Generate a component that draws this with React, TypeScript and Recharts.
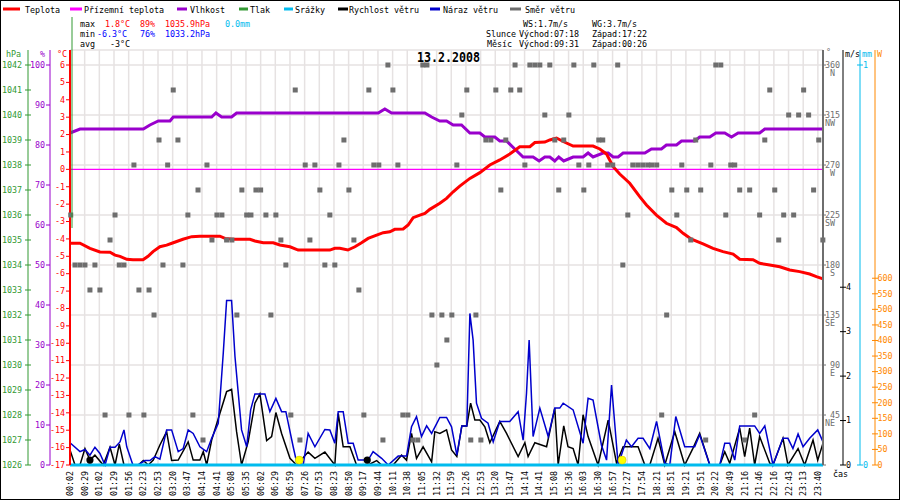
import React from 'react';
import { ComposedChart, Line, Scatter, XAxis, YAxis, CartesianGrid } from 'recharts';

// x values are sample slots: one slot per time label on the axis
const TIMES = [
  '00:02', '00:29', '01:02', '01:29', '01:56', '02:23', '02:53', '03:20', '03:47', '04:14',
  '04:41', '05:08', '05:35', '06:02', '06:29', '06:59', '07:26', '07:53', '08:23', '08:50',
  '09:17', '09:44', '10:11', '10:38', '11:05', '11:32', '11:59', '12:26', '12:53', '13:20',
  '13:47', '14:14', '14:41', '15:08', '15:36', '16:03', '16:30', '16:57', '17:27', '17:54',
  '18:21', '18:51', '19:21', '19:51', '20:22', '20:49', '21:16', '21:46', '22:16', '22:43',
  '23:13', '23:40',
];
const X_END = 51.35;

// [slot, °C]
const TEMPERATURE: [number, number][] = [
  [0, -4.25], [0.68, -4.25], [1.36, -4.54], [2.04, -4.75], [2.73, -4.77], [3.07, -4.93], [3.41, -5.0],
  [3.87, -5.17], [4.29, -5.2], [4.98, -5.2], [5.32, -5.0], [5.66, -4.73], [6.13, -4.45], [6.59, -4.36],
  [7.04, -4.22], [7.7, -4.02], [8.3, -3.87], [8.86, -3.84], [10.22, -3.84], [10.57, -3.97], [11.11, -4.02],
  [12.27, -4.02], [12.61, -4.12], [13.18, -4.22], [13.86, -4.22], [14.31, -4.35], [15.0, -4.45],
  [15.56, -4.64], [17.72, -4.64], [18.06, -4.54], [18.4, -4.54], [18.95, -4.64], [19.43, -4.45],
  [19.88, -4.22], [20.33, -3.97], [20.91, -3.78], [21.36, -3.64], [21.81, -3.59], [22.15, -3.45],
  [22.72, -3.43], [23.06, -3.2], [23.4, -2.78], [23.86, -2.63], [24.2, -2.53], [24.54, -2.3],
  [25.22, -1.95], [25.68, -1.67], [26.13, -1.29], [26.58, -0.96], [27.27, -0.52], [27.95, -0.19],
  [28.63, 0.25], [29.31, 0.54], [29.99, 0.88], [30.67, 1.3], [31.36, 1.3], [31.7, 1.54], [32.38, 1.57],
  [32.72, 1.69], [33.18, 1.8], [33.63, 1.6], [34.31, 1.34], [35.67, 1.34], [36.13, 1.17], [36.59, 0.88],
  [37.04, 0.15], [37.49, -0.27], [38.17, -0.8], [38.85, -1.57], [39.31, -2.05], [39.99, -2.63],
  [40.67, -3.1], [41.36, -3.35], [41.81, -3.68], [42.38, -4.02], [43.17, -4.29], [43.85, -4.54],
  [44.53, -4.73], [45.22, -4.87], [45.67, -5.17], [46.58, -5.2], [47.03, -5.4], [47.72, -5.5],
  [48.4, -5.6], [49.08, -5.79], [49.76, -5.88], [50.44, -6.02], [50.9, -6.17], [51.35, -6.3],
];

// ground temperature, °C
const GROUND_TEMP: [number, number][] = [[0, 0], [X_END, 0]];

// [slot, %]
const HUMIDITY: [number, number][] = [
  [0, 83], [0.68, 84], [5.0, 84], [5.45, 85], [6.02, 86], [6.82, 86], [7.04, 87], [9.66, 87], [9.95, 88],
  [10.34, 87], [11.02, 87], [11.36, 88], [21.02, 88], [21.47, 89], [21.93, 88], [24.2, 88], [24.66, 87],
  [25.22, 86], [25.68, 86], [26.13, 85], [26.7, 85], [27.27, 83], [27.95, 83], [28.29, 82], [28.97, 82],
  [29.31, 81], [29.77, 81], [30.33, 79], [30.9, 77], [31.58, 77], [31.99, 76], [32.38, 77], [32.72, 77],
  [33.06, 76], [33.33, 77], [33.67, 76], [34.31, 77], [34.99, 77], [35.33, 78], [35.67, 77], [36.35, 78],
  [36.7, 78], [37.04, 77], [37.38, 77], [37.72, 78], [39.2, 78], [39.65, 79], [40.33, 79], [40.67, 80],
  [41.36, 80], [41.7, 81], [42.6, 81], [42.94, 82], [43.63, 82], [44.04, 83], [44.65, 83], [45.11, 82],
  [45.56, 83], [47.03, 83], [47.38, 84], [51.35, 84],
];

// precipitation, mm
const PRECIP: [number, number][] = [[0, 0], [X_END, 0]];

// [slot, m/s]
const WIND_SPEED: [number, number][] = [
  [0, 0.34], [0.34, 0], [0.68, 0], [1.02, 0.37], [1.36, 0.11], [1.7, 0.22], [2.27, 0], [2.73, 0.4], [3.07, 0],
  [3.36, 0.47], [3.68, 0], [4.66, 0], [5.0, 0.1], [5.34, 0], [5.68, 0.11], [6.13, 0.45], [6.59, 0.75],
  [6.93, 0.1], [7.38, 0.11], [8.06, 0.52], [8.4, 0.11], [8.86, 0.11], [9.09, 0.3], [9.32, 0], [9.66, 0.56],
  [10.22, 1.16], [10.68, 1.65], [11.02, 1.7], [11.36, 0.75], [11.7, 0], [12.15, 0.52], [12.61, 1.39],
  [12.95, 1.6], [13.41, 0.55], [13.75, 0.64], [14.04, 1.18], [14.43, 0.71], [15.0, 0.15], [15.45, 0],
  [16.24, 0.29], [16.7, 0.15], [17.38, 0.29], [18.06, 0], [18.29, 1.16], [18.63, 0.41], [19.09, 0.41],
  [19.54, 0], [20.33, 0], [20.91, 0.1], [21.25, 0], [22.04, 0], [22.61, 0.22], [22.95, 0.11], [23.29, 0.71],
  [23.63, 0.15], [24.08, 0.41], [24.66, 0.07], [24.88, 0.75], [25.22, 0.71], [25.68, 0.79], [26.02, 0.34],
  [26.38, 0.19], [26.72, 0.88], [27.06, 0.88], [27.32, 1.39], [27.61, 1.01], [27.95, 1.01], [28.29, 0.86],
  [28.63, 0.5], [29.31, 0.98], [29.77, 0.71], [30.56, 0.19], [31.02, 0.5], [31.24, 0.19], [31.7, 0.5],
  [32.5, 0.41], [33.06, 1.28], [33.29, 0], [33.67, 0.88], [33.96, 0.41], [34.31, 0.37], [34.65, 0],
  [34.99, 1.13], [35.33, 0.64], [36.01, 0], [36.7, 1.01], [37.27, 0.04], [37.72, 0.41], [38.74, 0.41],
  [39.2, 0], [39.54, 0], [40.1, 0.6], [40.56, 0], [41.24, 0.75], [41.92, 0], [42.47, 0.37], [42.94, 0.71],
  [43.63, 0], [44.31, 0], [44.65, 0.3], [44.99, 0.04], [45.67, 0.83], [46.01, 0.19], [46.35, 0.83],
  [46.69, 0], [47.03, 0.64], [47.72, 0.04], [47.94, 0], [48.62, 0.6], [48.96, 0], [49.65, 0.37], [50.1, 0],
  [50.67, 0.56], [50.99, 0.11], [51.35, 0.49],
];

// [slot, m/s]
const WIND_GUST: [number, number][] = [
  [0, 0.5], [0.68, 0.3], [1.02, 0.35], [1.36, 0.22], [1.7, 0.4], [2.04, 0.26], [2.39, 0], [2.73, 0.4],
  [3.07, 0.4], [3.41, 0.52], [3.68, 0.79], [3.87, 0.41], [4.29, 0], [4.64, 0], [5.11, 0.1], [5.45, 0.1],
  [5.79, 0.19], [6.13, 0.13], [6.59, 0.79], [6.93, 0.79], [7.38, 0.3], [7.72, 0.37], [8.06, 0.79],
  [8.4, 0.71], [8.86, 0.41], [9.32, 0.3], [9.66, 0.6], [10.11, 0.94], [10.45, 2.51], [10.68, 3.7],
  [11.02, 3.7], [11.25, 2.44], [11.7, 0.79], [12.05, 0.41], [12.32, 1.24], [12.61, 1.6], [13.29, 1.6],
  [13.63, 1.2], [14.04, 1.5], [14.43, 1.2], [14.72, 1.2], [15.22, 0.41], [15.45, 0.07], [15.9, 0],
  [16.24, 0.71], [16.7, 0.41], [17.38, 0.8], [17.72, 0.79], [18.06, 0.49], [18.29, 1.2], [18.63, 1.2],
  [18.97, 0.49], [19.31, 0.49], [19.65, 0.11], [20.33, 0.11], [20.67, 0.3], [21.25, 0.15], [21.7, 0],
  [22.38, 0.2], [22.95, 0.2], [23.29, 0.86], [23.63, 1.09], [23.97, 0.64], [24.32, 0.88], [24.66, 0.71],
  [25.22, 1.07], [25.68, 1.07], [26.02, 0.86], [26.38, 0.22], [26.72, 0.88], [27.06, 0.88], [27.27, 3.41],
  [27.49, 2.81], [27.72, 1.39], [28.06, 1.05], [28.51, 0.94], [28.86, 0.52], [29.31, 0.98], [29.99, 0.98],
  [30.56, 1.2], [30.9, 0.56], [31.13, 1.61], [31.31, 2.81], [31.58, 0.64], [32.04, 1.28], [32.61, 0.64],
  [33.06, 1.28], [33.4, 1.28], [33.63, 1.39], [34.31, 1.24], [34.99, 0.49], [35.33, 1.5], [35.67, 1.46],
  [36.24, 0.45], [36.59, 0.11], [36.93, 1.8], [37.38, 0], [37.94, 0.56], [38.29, 0.41], [38.74, 0.6],
  [39.08, 0.6], [39.54, 0.37], [40.0, 0.98], [40.56, 0.04], [40.9, 0], [41.31, 1.09], [41.92, 0.41],
  [42.6, 0.41], [42.94, 0.68], [43.63, 0], [44.31, 0], [44.65, 0.49], [44.99, 0.49], [45.33, 0.11],
  [45.67, 0.88], [46.69, 0.88], [47.03, 0.71], [47.38, 0.88], [47.94, 0], [48.62, 0.6], [48.96, 0.6],
  [49.3, 0.37], [49.65, 0.7], [49.99, 0.41], [50.44, 0.6], [50.99, 0.79], [51.35, 0.52],
];

// [slot, degrees]
const WIND_DIR: [number, number][] = [
  [0.05, 225], [0.34, 180], [0.68, 180], [1.02, 180], [1.36, 157.5], [1.7, 180], [2.04, 157.5], [2.39, 45],
  [2.73, 202.5], [3.07, 225], [3.36, 180], [3.68, 180], [4.02, 45], [4.36, 270], [4.7, 157.5], [5.04, 45],
  [5.39, 157.5], [5.73, 135], [6.07, 292.5], [6.34, 180], [6.66, 270], [7.04, 337.5], [7.36, 292.5],
  [7.7, 180], [8.04, 225], [8.38, 45], [8.73, 247.5], [9.07, 22.5], [9.34, 270], [9.68, 202.5], [10.02, 225],
  [10.36, 225], [10.68, 202.5], [11.04, 202.5], [11.38, 135], [11.72, 247.5], [12.05, 225], [12.34, 225],
  [12.68, 247.5], [13.0, 247.5], [13.36, 225], [13.7, 135], [14.04, 225], [14.38, 202.5], [14.72, 180],
  [15.06, 45], [15.36, 337.5], [15.68, 22.5], [16.04, 270], [16.36, 202.5], [16.7, 270], [17.04, 247.5],
  [17.38, 180], [17.72, 225], [18.06, 180], [18.34, 270], [18.68, 292.5], [19.02, 247.5], [19.36, 202.5],
  [19.7, 157.5], [20.04, 45], [20.38, 337.5], [20.72, 270], [21.06, 270], [21.34, 22.5], [21.68, 360],
  [22.02, 337.5], [22.36, 270], [22.7, 45], [23.04, 45], [23.38, 22.5], [23.72, 22.5], [24.06, 360],
  [24.34, 360], [24.68, 135], [25.02, 90], [25.36, 135], [25.7, 112.5], [26.04, 135], [26.38, 270],
  [26.72, 315], [27.06, 337.5], [27.33, 22.5], [27.68, 135], [28.02, 22.5], [28.36, 292.5], [28.7, 292.5],
  [29.04, 337.5], [29.38, 247.5], [29.72, 292.5], [30.06, 337.5], [30.35, 360], [30.67, 337.5], [31.02, 270],
  [31.36, 360], [31.7, 360], [32.04, 360], [32.38, 315], [32.72, 360], [33.06, 292.5], [33.33, 247.5],
  [33.67, 292.5], [34.02, 315], [34.36, 360], [34.7, 270], [35.04, 247.5], [35.38, 270], [35.72, 360],
  [36.06, 292.5], [36.33, 292.5], [36.67, 270], [37.01, 270], [37.35, 360], [37.7, 180], [38.04, 225],
  [38.38, 270], [38.72, 270], [39.06, 270], [39.4, 270], [39.67, 270], [40.01, 270], [40.35, 45], [40.69, 135],
  [41.04, 247.5], [41.38, 225], [41.72, 270], [42.06, 247.5], [42.33, 202.5], [42.67, 292.5], [43.01, 247.5],
  [43.35, 22.5], [43.7, 270], [44.04, 360], [44.38, 360], [44.72, 225], [45.06, 270], [45.33, 270],
  [45.67, 247.5], [46.01, 22.5], [46.35, 247.5], [46.69, 45], [47.03, 225], [47.38, 292.5], [47.72, 337.5],
  [48.06, 247.5], [48.33, 202.5], [48.67, 225], [49.01, 315], [49.35, 225], [49.69, 315], [50.03, 337.5],
  [50.37, 315], [50.71, 247.5], [51.06, 292.5], [51.34, 202.5],
];

const SUN_EVENTS = [15.63, 37.65]; // východ 07:18, západ 17:22
const MOON_EVENTS = [1.36, 20.27]; // západ 00:26, východ 09:31
const EVENT_LEVEL = 0.11; // m/s, markers sit just above the bottom

const TEMP_TICKS = [-17, -16, -15, -14, -13, -12, -11, -10, -9, -8, -7, -6, -5, -4, -3, -2, -1, 0, 1, 2, 3, 4, 5, 6];
const HUM_TICKS = [0, 10, 20, 30, 40, 50, 60, 70, 80, 90, 100];
const PRES_TICKS = [1026, 1027, 1028, 1029, 1030, 1031, 1032, 1033, 1034, 1035, 1036, 1037, 1038, 1039, 1040, 1041, 1042];
const DIR_TICKS = [0, 45, 90, 135, 180, 225, 270, 315, 360];
const DIR_NAMES: Record<number, string> = { 45: 'NE', 90: 'E', 135: 'SE', 180: 'S', 225: 'SW', 270: 'W', 315: 'NW', 360: 'N' };
const WIND_TICKS = [0, 1, 2, 3, 4];
const RAIN_TICKS = [0, 1];
const RAD_TICKS = [0, 50, 100, 150, 200, 250, 300, 350, 400, 450, 500, 550, 600];
const SLOT_TICKS = TIMES.map((_, i) => i);

const LEGEND = [
  { name: 'Teplota', color: '#ff0000', x1: 3, x2: 20, tx: 25 },
  { name: 'Přízemní teplota', color: '#ff00ff', x1: 70, x2: 82, tx: 84 },
  { name: 'Vlhkost', color: '#9900cc', x1: 177, x2: 187, tx: 190 },
  { name: 'Tlak', color: '#339933', x1: 239, x2: 248, tx: 250 },
  { name: 'Srážky', color: '#00bbee', x1: 284, x2: 293, tx: 295 },
  { name: 'Rychlost větru', color: '#000000', x1: 338, x2: 348, tx: 349 },
  { name: 'Náraz větru', color: '#0000cc', x1: 430, x2: 440, tx: 443 },
  { name: 'Směr větru', color: '#6e6e6e', x1: 510, x2: 521, tx: 525 },
];

const RED = '#ff0000';
const PURPLE = '#9900cc';
const GREEN = '#339933';
const CYAN = '#00bbee';
const BLUE = '#0000cc';
const GRAY = '#6e6e6e';
const ORANGE = '#ff8800';

const FONT = '"DejaVu Sans Mono", monospace';
const TXT = { fontFamily: FONT, fontSize: 8.4, letterSpacing: -0.05 };

const pts = (rows: [number, number][]) => rows.map(([x, v]) => ({ x, v }));
const events = (xs: number[]) => xs.map((x) => ({ x, v: EVENT_LEVEL }));

const leftTick = (color: string, len: number, cross: number, gap: number) => (p: any) => (
  <g>
    <line x1={p.x - len} x2={p.x + cross} y1={p.y} y2={p.y} stroke={color} />
    <text x={p.x - gap} y={p.y} dy="0.33em" textAnchor="end" fill={color} {...TXT}>
      {p.payload.value}
    </text>
  </g>
);

const rightTick = (color: string, gap: number) => (p: any) => (
  <g>
    <line x1={p.x - 3} x2={p.x + 3} y1={p.y} y2={p.y} stroke={color} />
    <text x={p.x + gap} y={p.y} dy="0.33em" textAnchor="start" fill={color} {...TXT}>
      {p.payload.value}
    </text>
  </g>
);

const DirTick = (p: any) => {
  const v = p.payload.value;
  return (
    <g>
      <line x1={p.x} x2={p.x + 3} y1={p.y} y2={p.y} stroke={GRAY} />
      {v > 0 && (
        <text x={p.x + 17} y={p.y} dy="0.33em" textAnchor="end" fill={GRAY} {...TXT}>{v}</text>
      )}
      {v > 0 && (
        <text x={p.x + 12} y={p.y + 8.5} dy="0.33em" textAnchor="end" fill={GRAY} {...TXT}>{DIR_NAMES[v]}</text>
      )}
    </g>
  );
};

const TimeTick = (p: any) => (
  <g transform={`translate(${p.x},${p.y + 6}) rotate(-90)`}>
    <text x={0} y={0} textAnchor="end" dominantBaseline="central" fill="#000" {...TXT}>
      {TIMES[p.payload.value]}
    </text>
  </g>
);

function Header() {
  return (
    <svg width={900} height={500} style={{ position: 'absolute', left: 0, top: 0, pointerEvents: 'none' }}>
      <rect x={0.5} y={0.5} width={899} height={499} fill="none" stroke="#000" />
      {LEGEND.map((l) => (
        <g key={l.name}>
          <line x1={l.x1} x2={l.x2} y1={9} y2={9} stroke={l.color} strokeWidth={3} />
          <text x={l.tx} y={12.5} fill="#000" {...TXT}>{l.name}</text>
        </g>
      ))}
      <line x1={72} x2={72} y1={17} y2={228} stroke={GREEN} />

      <text x={80} y={27} fill="#000" {...TXT}>max</text>
      <text x={105} y={27} fill={RED} {...TXT}>1.8°C</text>
      <text x={140} y={27} fill={RED} {...TXT}>89%</text>
      <text x={165} y={27} fill={RED} {...TXT}>1035.9hPa</text>
      <text x={225} y={27} fill={CYAN} {...TXT}>0.0mm</text>
      <text x={80} y={37} fill="#000" {...TXT}>min</text>
      <text x={97} y={37} fill="#0000ff" {...TXT}>-6.3°C</text>
      <text x={140} y={37} fill="#0000ff" {...TXT}>76%</text>
      <text x={165} y={37} fill="#0000ff" {...TXT}>1033.2hPa</text>
      <text x={80} y={47} fill="#000" {...TXT}>avg</text>
      <text x={110} y={47} fill="#000" {...TXT}>-3°C</text>

      <text x={523} y={27} fill="#000" {...TXT}>WS:1.7m/s</text>
      <text x={592} y={27} fill="#000" {...TXT}>WG:3.7m/s</text>
      <text x={486} y={37} fill="#000" {...TXT}>Slunce</text>
      <text x={519} y={37} fill="#000" {...TXT}>Východ:07:18</text>
      <text x={592} y={37} fill="#000" {...TXT}>Západ:17:22</text>
      <text x={487} y={47} fill="#000" {...TXT}>Měsíc</text>
      <text x={519} y={47} fill="#000" {...TXT}>Východ:09:31</text>
      <text x={592} y={47} fill="#000" {...TXT}>Západ:00:26</text>

      <text x={417} y={61.5} fill="#000" fontFamily={FONT} fontSize={14} fontWeight="bold" textLength={63} lengthAdjust="spacingAndGlyphs">
        13.2.2008
      </text>

      <text x={6} y={57} fill={GREEN} {...TXT}>hPa</text>
      <text x={40} y={57} fill={PURPLE} {...TXT}>%</text>
      <text x={57} y={57} fill={RED} {...TXT}>°C</text>
      <text x={826} y={55} fill={GRAY} {...TXT}>°</text>
      <text x={845} y={57} fill="#000" {...TXT}>m/s</text>
      <text x={862} y={57} fill={CYAN} {...TXT}>mm</text>
      <text x={877} y={57} fill={ORANGE} {...TXT}>W</text>
      <text x={833} y={477} fill="#000" {...TXT}>čas</text>
    </svg>
  );
}

// axis ids are ordered so the first one (alphabetically) sits next to the plot
export default function App() {
  return (
    <div style={{ position: 'absolute', left: 0, top: 0, width: 900, height: 500, background: '#fff' }}>
      <ComposedChart width={900} height={500} margin={{ top: 50, right: 0, bottom: 0, left: 0 }}>
        <CartesianGrid yAxisId="a_dir" stroke="#e6e2e2" strokeWidth={1.5} />
        <XAxis
          type="number"
          dataKey="x"
          domain={[0, X_END]}
          ticks={SLOT_TICKS}
          interval={0}
          height={35}
          tickSize={0}
          tickMargin={0}
          axisLine={false}
          tickLine={false}
          tick={TimeTick}
        />
        <YAxis yAxisId="a_t" orientation="left" width={20} domain={[-17, 6]} ticks={TEMP_TICKS} interval={0}
          padding={{ top: 15, bottom: 0 }} tickSize={0} tickMargin={0} tickLine={false}
          axisLine={{ stroke: RED, strokeWidth: 2 }} tick={leftTick(RED, 4, 0, 5)} />
        <YAxis yAxisId="b_h" orientation="left" width={22} domain={[0, 100]} ticks={HUM_TICKS} interval={0}
          padding={{ top: 15, bottom: 0 }} tickSize={0} tickMargin={0} tickLine={false}
          axisLine={{ stroke: PURPLE }} tick={leftTick(PURPLE, 4, 0, 5)} />
        <YAxis yAxisId="c_p" orientation="left" width={28} type="number" domain={[1026, 1042]} allowDataOverflow
          ticks={PRES_TICKS} interval={0}
          padding={{ top: 15, bottom: 0 }} tickSize={0} tickMargin={0} tickLine={false}
          axisLine={{ stroke: GREEN }} tick={leftTick(GREEN, 3, 3, 6)} />
        <YAxis yAxisId="a_dir" orientation="right" width={20} domain={[0, 360]} ticks={DIR_TICKS} interval={0}
          padding={{ top: 15, bottom: 0 }} tickSize={0} tickMargin={0} tickLine={false}
          axisLine={{ stroke: GRAY, strokeWidth: 2 }} tick={DirTick} />
        <YAxis yAxisId="b_w" orientation="right" width={17} domain={[0, 9]} ticks={WIND_TICKS} interval={0}
          padding={{ top: 15, bottom: 0 }} tickSize={0} tickMargin={0} tickLine={false}
          axisLine={{ stroke: '#000' }} tick={rightTick('#000', 3)} />
        <YAxis yAxisId="c_r" orientation="right" width={15} domain={[0, 1]} ticks={RAIN_TICKS} interval={0}
          padding={{ top: 15, bottom: 0 }} tickSize={0} tickMargin={0} tickLine={false}
          axisLine={{ stroke: CYAN }} tick={rightTick(CYAN, 3)} />
        <YAxis yAxisId="d_rad" orientation="right" width={25} type="number" domain={[0, 1285]} allowDataOverflow
          ticks={RAD_TICKS} interval={0}
          padding={{ top: 15, bottom: 0 }} tickSize={0} tickMargin={0} tickLine={false}
          axisLine={{ stroke: ORANGE }} tick={rightTick(ORANGE, 2.5)} />

        <Line yAxisId="a_t" data={pts(GROUND_TEMP)} dataKey="v" type="linear" stroke="#ff00ff" strokeWidth={1.2}
          dot={false} activeDot={false} isAnimationActive={false} />
        <Scatter yAxisId="a_dir" data={pts(WIND_DIR)} dataKey="v" isAnimationActive={false}
          shape={(p: any) => <rect x={p.cx - 2.5} y={p.cy - 2.5} width={5} height={5} fill={GRAY} />} />
        <Line yAxisId="b_h" data={pts(HUMIDITY)} dataKey="v" type="linear" stroke={PURPLE} strokeWidth={3}
          dot={false} activeDot={false} isAnimationActive={false} />
        <Line yAxisId="a_t" data={pts(TEMPERATURE)} dataKey="v" type="linear" stroke={RED} strokeWidth={3}
          dot={false} activeDot={false} isAnimationActive={false} />
        <Line yAxisId="b_w" data={pts(WIND_SPEED)} dataKey="v" type="linear" stroke="#000" strokeWidth={1.5}
          dot={false} activeDot={false} isAnimationActive={false} />
        <Line yAxisId="b_w" data={pts(WIND_GUST)} dataKey="v" type="linear" stroke={BLUE} strokeWidth={1.5}
          dot={false} activeDot={false} isAnimationActive={false} />
        <Line yAxisId="c_r" data={pts(PRECIP)} dataKey="v" type="linear" stroke={CYAN} strokeWidth={3}
          dot={false} activeDot={false} isAnimationActive={false} />
        <Scatter yAxisId="b_w" data={events(MOON_EVENTS)} dataKey="v" isAnimationActive={false}
          shape={(p: any) => <circle cx={p.cx} cy={p.cy} r={3.6} fill="#000" />} />
        <Scatter yAxisId="b_w" data={events(SUN_EVENTS)} dataKey="v" isAnimationActive={false}
          shape={(p: any) => <circle cx={p.cx} cy={p.cy} r={4} fill="#ffff00" stroke="#d0c000" strokeWidth={0.5} />} />
      </ComposedChart>
      <Header />
    </div>
  );
}
